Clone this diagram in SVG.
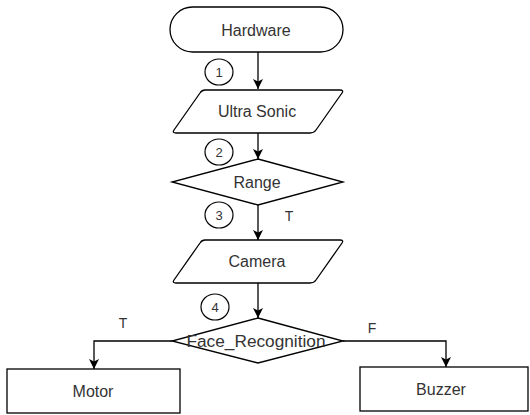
<svg xmlns="http://www.w3.org/2000/svg" width="530" height="415" viewBox="0 0 530 415">
  <style>
    .shape { fill: #ffffff; stroke: #000000; stroke-width: 1.3; }
    .label { font-family: "Liberation Sans", Arial, sans-serif; font-size: 16px; fill: #333333; text-anchor: middle; dominant-baseline: central; }
    .step { fill: #ffffff; stroke: #000000; stroke-width: 1.2; }
    .num { font-family: "Liberation Sans", Arial, sans-serif; font-size: 13px; fill: #333333; text-anchor: middle; dominant-baseline: central; }
    .edge { fill: none; stroke: #000000; stroke-width: 1.3; marker-end: url(#arrow); }
    .tag { font-family: "Liberation Sans", Arial, sans-serif; font-size: 14px; fill: #333333; text-anchor: middle; dominant-baseline: central; }
  </style>
  <defs>
    <marker id="arrow" viewBox="0 0 10 10" refX="10" refY="5" markerWidth="10" markerHeight="10" markerUnits="userSpaceOnUse" orient="auto">
      <path d="M0,0 L10,5 L0,10 L2.5,5 Z" fill="#000000"/>
    </marker>
  </defs>
  <rect width="530" height="415" fill="#ffffff"/>

  <g id="connectors">
    <path class="edge" d="M258,52 L258,89"/>
    <path class="edge" d="M258,133 L258,159"/>
    <path class="edge" d="M258,205 L258,240"/>
    <path class="edge" d="M258,283 L258,318"/>
    <path class="edge" d="M172,341 L94,341 L94,369"/>
    <path class="edge" d="M343,341 L446,341 L446,367"/>
    <text class="tag" x="289" y="216">T</text>
    <text class="tag" x="123" y="323">T</text>
    <text class="tag" x="372" y="328">F</text>
  </g>

  <g id="step-1">
    <ellipse class="step" cx="219" cy="72" rx="14" ry="13"/>
    <text class="num" x="219" y="72">1</text>
  </g>
  <g id="step-2">
    <ellipse class="step" cx="219" cy="152" rx="14" ry="13"/>
    <text class="num" x="219" y="152">2</text>
  </g>
  <g id="step-3">
    <ellipse class="step" cx="219" cy="215" rx="14" ry="13"/>
    <text class="num" x="219" y="215">3</text>
  </g>
  <g id="step-4">
    <ellipse class="step" cx="215" cy="307" rx="14" ry="13"/>
    <text class="num" x="215" y="307">4</text>
  </g>

  <g id="hardware">
    <rect class="shape" x="170" y="7" width="173" height="45" rx="22.5" ry="22.5"/>
    <text class="label" x="256" y="30">Hardware</text>
  </g>

  <g id="ultra-sonic">
    <path class="shape" d="M205,90 L340,90 Q344,90 342,93 L316,130 Q314,133 310,133 L176,133 Q172,133 174,130 L200,93 Q202,90 205,90 Z"/>
    <text class="label" x="257" y="111">Ultra Sonic</text>
  </g>

  <g id="range">
    <path class="shape" d="M258,159 L343,182 L258,205 L172,182 Z"/>
    <text class="label" x="257" y="182">Range</text>
  </g>

  <g id="camera">
    <path class="shape" d="M205,240 L340,240 Q344,240 342,243 L316,280 Q314,283 310,283 L176,283 Q172,283 174,280 L200,243 Q202,240 205,240 Z"/>
    <text class="label" x="257" y="261">Camera</text>
  </g>

  <g id="face-recognition">
    <path class="shape" d="M258,318 L343,341 L258,363 L172,341 Z"/>
    <text class="label" x="256" y="341" textLength="139" lengthAdjust="spacingAndGlyphs">Face_Recognition</text>
  </g>

  <g id="motor">
    <rect class="shape" x="7" y="369" width="173" height="44"/>
    <text class="label" x="93" y="391">Motor</text>
  </g>

  <g id="buzzer">
    <rect class="shape" x="360" y="367" width="168" height="44"/>
    <text class="label" x="441" y="389">Buzzer</text>
  </g>
</svg>
